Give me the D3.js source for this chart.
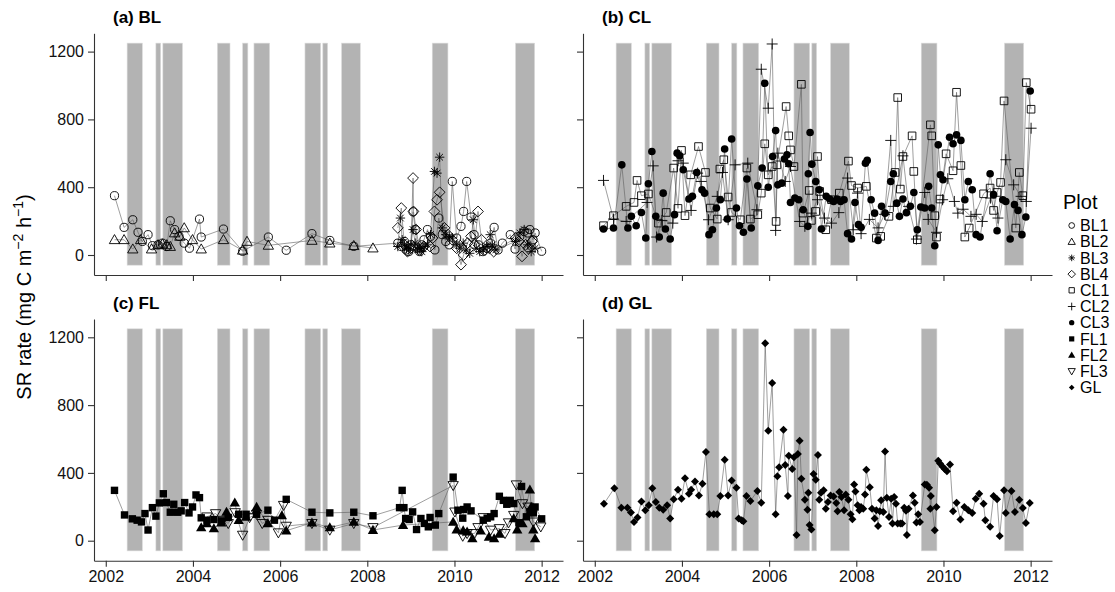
<!DOCTYPE html>
<html>
<head>
<meta charset="utf-8">
<script src="https://cdn.jsdelivr.net/npm/d3@7"></script>
<style>
  body { margin: 0; background: #fff; }
  svg { font-family: "Liberation Sans", Arial, Helvetica, sans-serif; }
  .axis path, .axis line { stroke: #333; stroke-width: 1.1; }
  .axis text { fill: #111; font-size: 16px; font-family: "Liberation Sans", Arial, sans-serif; }
</style>
</head>
<body>
<div id="chart-container"></div>
<script>

// Tick values.
const yearTicks = [2002, 2004, 2006, 2008, 2010, 2012];
const rateTicks = [0, 400, 800, 1200];

// Shaded periods (decimal years).
const bandStart = [2002.49, 2003.15, 2003.31, 2004.56, 2005.14, 2005.40, 2006.57, 2006.98, 2007.41, 2009.49, 2011.40];
const bandEnd   = [2002.84, 2003.26, 2003.76, 2004.85, 2005.26, 2005.76, 2006.93, 2007.09, 2007.84, 2009.85, 2011.84];
const bandLow = -60, bandHigh = 1250;

// Plots, panels.
const plotNames = ["BL1", "BL2", "BL3", "BL4", "CL1", "CL2", "CL3", "FL1", "FL2", "FL3", "GL"];
const panelTitles = ["(a) BL", "(b) CL", "(c) FL", "(d) GL"];
const panelPlots = [["BL1", "BL2", "BL3", "BL4"], ["CL1", "CL2", "CL3"], ["FL1", "FL2", "FL3"], ["GL"]];

// SR rate series: [decimal year, mg C m-2 h-1].
const bl1 = [[2002.20,350],[2002.42,163],[2002.62,208],[2002.74,134],[2002.84,80],[2002.97,120],[2003.07,55],[2003.20,60],[2003.30,70],[2003.40,50],
  [2003.48,202],[2003.58,150],[2003.68,110],[2003.80,70],[2003.92,40],[2004.15,212],[2004.19,106],[2004.70,153],[2005.14,22],[2005.73,106],
  [2006.14,28],[2006.73,126],[2007.14,86],[2007.69,51],[2008.70,70],[2008.78,50],[2008.85,80],[2008.90,30],[2008.95,20],[2009.00,60],
  [2009.05,255],[2009.10,150],[2009.15,40],[2009.20,20],[2009.25,60],[2009.30,90],[2009.38,150],[2009.45,110],[2009.55,30],[2009.64,218],
  [2009.72,120],[2009.80,80],[2009.88,60],[2009.95,434],[2010.05,100],[2010.15,169],[2010.21,257],[2010.28,434],[2010.38,224],[2010.45,120],
  [2010.55,60],[2010.65,20],[2010.75,40],[2010.83,70],[2010.91,163],[2011.00,30],[2011.10,70],[2011.28,120],[2011.39,35],[2011.50,110],
  [2011.60,140],[2011.68,130],[2011.73,150],[2011.80,90],[2011.85,130],[2012.00,22]];
const bl2 = [[2002.20,90],[2002.42,90],[2002.62,35],[2002.80,90],[2003.05,35],[2003.20,60],[2003.30,65],[2003.40,60],[2003.48,50],[2003.58,130],
  [2003.70,110],[2003.80,160],[2003.99,90],[2004.19,35],[2004.70,90],[2005.14,28],[2005.24,80],[2005.73,57],[2006.73,86],[2007.14,70],
  [2007.69,55],[2008.13,41]];
const bl3 = [[2008.70,50],[2008.76,218],[2008.80,90],[2008.85,60],[2008.90,40],[2008.95,30],[2009.00,60],[2009.05,150],[2009.10,70],[2009.15,30],
  [2009.20,40],[2009.25,20],[2009.30,50],[2009.38,60],[2009.45,120],[2009.54,493],[2009.60,483],[2009.66,577],[2009.72,160],[2009.80,120],
  [2009.88,110],[2009.95,100],[2010.05,60],[2010.12,40],[2010.20,70],[2010.27,30],[2010.35,10],[2010.43,208],[2010.50,40],[2010.58,20],
  [2010.66,30],[2010.75,50],[2010.82,120],[2010.87,60],[2010.95,30],[2011.40,80],[2011.50,130],[2011.60,150],[2011.68,60],[2011.76,20],
  [2011.85,40]];
const bl4 = [[2008.70,160],[2008.78,277],[2008.85,60],[2008.92,20],[2009.00,40],[2009.05,454],[2009.06,257],[2009.12,150],[2009.20,30],[2009.30,50],
  [2009.44,50],[2009.50,100],[2009.54,257],[2009.60,326],[2009.66,370],[2009.77,160],[2009.85,120],[2009.95,90],[2010.05,40],[2010.15,-57],
  [2010.21,0],[2010.30,70],[2010.38,110],[2010.46,60],[2010.54,257],[2010.62,90],[2010.70,30],[2010.80,40],[2010.90,20],[2011.40,100],
  [2011.48,80],[2011.55,-8],[2011.63,60],[2011.69,40],[2011.78,80]];
const cl1 = [[2002.20,173],[2002.43,232],[2002.72,287],[2002.90,310],[2002.97,440],[2003.07,350],[2003.23,360],[2003.46,188],[2003.64,251],[2003.81,513],
  [2003.91,275],[2003.99,617],[2004.07,232],[2004.20,473],[2004.38,640],[2004.54,487],[2004.65,277],[2004.81,212],[2004.87,507],[2004.96,562],
  [2005.06,342],[2005.14,251],[2005.34,208],[2005.49,513],[2005.57,212],[2005.74,238],[2005.82,365],[2005.90,656],[2005.98,473],[2006.07,522],
  [2006.16,198],[2006.18,532],[2006.39,876],[2006.45,703],[2006.49,620],[2006.57,522],[2006.74,1007],[2006.78,247],[2006.92,381],[2006.97,204],
  [2007.07,257],[2007.11,581],[2007.16,375],[2007.30,149],[2007.43,326],[2007.61,365],[2007.82,554],[2007.89,410],[2008.03,395],[2008.23,405],
  [2008.46,100],[2008.56,110],[2008.75,228],[2008.89,487],[2008.95,929],[2009.01,389],[2009.07,581],[2009.28,703],[2009.32,493],[2009.40,90],
  [2009.70,768],[2009.73,703],[2009.80,232],[2009.84,106],[2009.92,330],[2010.06,597],[2010.22,497],[2010.30,960],[2010.40,528],[2010.49,106],
  [2010.59,159],[2010.92,361],[2011.07,395],[2011.15,263],[2011.23,369],[2011.31,428],[2011.39,909],[2011.66,159],[2011.74,487],[2011.82,350],
  [2011.90,1017],[2012.01,860]];
const cl2 = [[2002.20,440],[2002.43,212],[2002.72,198],[2003.20,310],[2003.34,526],[2003.42,106],[2003.54,204],[2003.79,188],[2003.91,556],[2004.03,542],
  [2004.21,263],[2004.36,483],[2004.44,434],[2004.61,208],[2004.81,346],[2004.93,487],[2005.06,208],[2005.22,532],[2005.51,542],[2005.72,267],
  [2005.82,1096],[2005.98,866],[2006.07,1245],[2006.15,145],[2006.20,601],[2006.37,434],[2006.49,522],[2006.70,198],[2006.82,169],[2006.97,247],
  [2007.11,326],[2007.27,218],[2007.43,188],[2007.60,250],[2007.80,454],[2007.93,149],[2008.03,365],[2008.11,126],[2008.30,210],[2008.50,160],
  [2008.65,240],[2008.79,676],[2008.85,287],[2009.07,585],[2009.20,287],[2009.38,94],[2009.57,369],[2009.65,210],[2009.84,134],[2009.98,326],
  [2010.10,450],[2010.25,316],[2010.33,247],[2010.45,270],[2010.63,228],[2010.75,240],[2010.89,198],[2011.08,336],[2011.25,218],[2011.43,562],
  [2011.61,414],[2011.78,346],[2011.90,316],[2012.01,748]];
const cl3 = [[2002.20,153],[2002.43,159],[2002.62,532],[2002.76,159],[2002.84,228],[2002.95,173],[2003.07,251],[2003.17,100],[2003.23,420],[2003.31,611],
  [2003.40,228],[2003.48,106],[2003.57,365],[2003.62,153],[2003.73,94],[2003.83,238],[2003.89,601],[2003.95,585],[2004.03,503],[2004.16,330],
  [2004.24,346],[2004.34,487],[2004.46,385],[2004.52,365],[2004.62,120],[2004.70,149],[2004.79,277],[2004.88,326],[2004.98,625],[2005.04,212],
  [2005.14,684],[2005.25,277],[2005.32,173],[2005.41,134],[2005.49,448],[2005.59,159],[2005.74,408],[2005.84,513],[2005.90,1013],[2005.98,400],
  [2006.08,581],[2006.15,734],[2006.20,414],[2006.29,424],[2006.35,566],[2006.41,591],[2006.45,538],[2006.49,310],[2006.59,336],[2006.68,326],
  [2006.78,267],[2006.89,169],[2006.90,479],[2006.94,723],[2006.98,536],[2007.07,434],[2007.15,385],[2007.20,153],[2007.31,346],[2007.39,330],
  [2007.48,316],[2007.56,330],[2007.64,316],[2007.72,326],[2007.80,126],[2007.89,94],[2007.97,310],[2008.05,179],[2008.11,163],[2008.21,542],
  [2008.25,558],[2008.34,326],[2008.42,247],[2008.50,86],[2008.58,287],[2008.66,247],[2008.79,434],[2008.85,479],[2008.93,306],[2008.99,228],
  [2009.07,330],[2009.15,250],[2009.24,287],[2009.32,369],[2009.40,149],[2009.48,283],[2009.57,277],[2009.66,405],[2009.73,277],[2009.80,55],
  [2009.88,650],[2009.93,473],[2009.99,444],[2010.14,695],[2010.22,656],[2010.30,709],[2010.40,676],[2010.49,326],[2010.57,434],[2010.66,385],
  [2010.75,120],[2010.84,106],[2011.07,479],[2011.15,356],[2011.23,143],[2011.36,326],[2011.43,316],[2011.53,94],[2011.63,297],[2011.71,263],
  [2011.80,120],[2011.89,224],[2011.99,968]];
const fl1 = [[2002.20,297],[2002.43,152],[2002.61,129],[2002.72,121],[2002.82,111],[2002.90,160],[2002.97,63],[2003.07,195],[2003.15,145],[2003.23,223],
  [2003.32,277],[2003.39,225],[2003.48,168],[2003.56,215],[2003.65,168],[2003.73,176],[2003.81,225],[2003.91,164],[2003.99,199],[2004.07,270],
  [2004.15,254],[2004.19,135],[2004.32,121],[2004.48,125],[2004.65,117],[2004.81,137],[2005.05,156],[2005.22,156],[2005.46,156],[2005.72,180],
  [2005.87,121],[2006.14,244],[2006.73,168],[2007.14,164],[2007.69,168],[2008.13,147],[2008.74,195],[2008.80,297],[2008.84,195],[2008.88,131],
  [2008.96,125],[2009.04,170],[2009.13,66],[2009.23,131],[2009.31,102],[2009.40,82],[2009.44,137],[2009.56,92],[2009.64,160],[2009.97,375],
  [2010.08,180],[2010.19,133],[2010.21,184],[2010.29,199],[2010.38,176],[2010.66,121],[2010.75,133],[2010.83,141],[2010.91,160],[2011.03,262],
  [2011.12,238],[2011.20,215],[2011.28,238],[2011.36,219],[2011.48,106],[2011.54,320],[2011.65,141],[2011.73,172],[2011.81,164],[2011.85,199],
  [2012.00,129]];
const fl2 = [[2004.19,78],[2004.32,102],[2004.48,72],[2004.65,106],[2004.77,170],[2004.96,225],[2005.05,121],[2005.22,141],[2005.46,199],[2005.72,102],
  [2006.04,149],[2006.14,59],[2006.73,106],[2007.14,78],[2007.69,111],[2008.13,63],[2008.82,92],[2009.97,111],[2010.05,66],[2010.20,60],
  [2010.29,53],[2010.41,14],[2010.60,60],[2010.79,23],[2010.91,14],[2011.03,40],[2011.36,131],[2011.44,66],[2011.56,102],[2011.73,301],
  [2011.76,200],[2011.81,66],[2011.85,14]];
const fl3 = [[2004.32,141],[2004.52,160],[2004.69,121],[2004.81,102],[2004.97,166],[2005.14,33],[2005.30,137],[2005.46,156],[2005.59,102],[2005.72,121],
  [2005.96,47],[2006.08,209],[2006.14,86],[2006.73,102],[2007.14,63],[2007.69,102],[2008.13,78],[2009.97,326],[2010.01,170],[2010.19,27],
  [2010.29,43],[2010.46,43],[2010.54,78],[2010.66,137],[2010.83,63],[2011.03,72],[2011.16,43],[2011.24,106],[2011.36,150],[2011.42,330],
  [2011.56,219],[2011.69,199],[2011.81,111],[2011.98,82]];
const gl = [[2002.21,218],[2002.45,310],[2002.61,195],[2002.75,195],[2002.83,166],[2002.90,111],[2002.98,137],[2003.07,232],[2003.16,179],[2003.24,209],
  [2003.32,310],[2003.40,228],[2003.48,195],[2003.57,183],[2003.66,209],[2003.73,131],[2003.81,244],[2003.91,300],[2003.99,248],[2004.07,369],
  [2004.16,277],[2004.21,300],[2004.30,349],[2004.39,267],[2004.47,336],[2004.55,523],[2004.63,156],[2004.73,156],[2004.81,156],[2004.88,263],
  [2004.98,478],[2005.06,267],[2005.14,355],[2005.25,312],[2005.30,131],[2005.37,121],[2005.41,115],[2005.48,263],[2005.57,234],[2005.73,293],
  [2005.82,224],[2005.91,1165],[2005.98,648],[2006.07,931],[2006.15,156],[2006.19,380],[2006.23,433],[2006.33,654],[2006.37,447],[2006.43,263],
  [2006.45,501],[2006.53,423],[2006.57,492],[2006.63,33],[2006.66,511],[2006.70,589],[2006.74,365],[2006.82,242],[2006.88,183],[2006.90,283],
  [2006.93,92],[2006.97,66],[2007.02,394],[2007.07,359],[2007.12,505],[2007.15,242],[2007.19,283],[2007.25,297],[2007.30,189],[2007.35,228],
  [2007.41,267],[2007.48,261],[2007.54,222],[2007.57,174],[2007.61,287],[2007.66,258],[2007.72,179],[2007.76,273],[2007.82,242],[2007.87,156],
  [2007.91,127],[2007.95,332],[2007.98,291],[2008.03,209],[2008.07,179],[2008.11,199],[2008.16,189],[2008.20,273],[2008.23,419],[2008.31,316],
  [2008.36,189],[2008.42,131],[2008.46,179],[2008.50,86],[2008.54,174],[2008.57,238],[2008.62,170],[2008.66,527],[2008.70,254],[2008.75,140],
  [2008.80,248],[2008.83,101],[2008.87,258],[2008.91,218],[2008.95,101],[2009.01,101],[2009.05,101],[2009.10,195],[2009.14,176],[2009.16,33],
  [2009.20,189],[2009.30,267],[2009.34,224],[2009.38,107],[2009.42,156],[2009.46,111],[2009.57,332],[2009.62,330],[2009.67,312],[2009.70,189],
  [2009.71,263],[2009.80,62],[2009.84,199],[2009.88,472],[2009.92,456],[2009.98,437],[2010.03,423],[2010.08,410],[2010.15,449],[2010.22,174],
  [2010.30,224],[2010.39,125],[2010.48,199],[2010.57,179],[2010.66,164],[2010.74,248],[2010.82,277],[2010.92,218],[2010.96,121],[2011.07,82],
  [2011.15,263],[2011.23,244],[2011.29,27],[2011.39,297],[2011.43,164],[2011.56,293],[2011.64,170],[2011.74,242],[2011.82,193],[2011.89,105],
  [2011.98,222]];

const seriesData = { BL1: bl1, BL2: bl2, BL3: bl3, BL4: bl4, CL1: cl1, CL2: cl2, CL3: cl3, FL1: fl1, FL2: fl2, FL3: fl3, GL: gl };

// Shape per plot, size in px, filled or not.
const shapeOf = { BL1: "circle", BL2: "triangle", BL3: "asterisk", BL4: "diamond", CL1: "square", CL2: "plus",
  CL3: "dot", FL1: "squareFill", FL2: "triangleFill", FL3: "triangleDown", GL: "diamondFill" };
const shapeSize = { circle: 4.1, triangle: 4.7, asterisk: 4.7, diamond: 5.4, square: 3.8, plus: 5.5,
  dot: 3.8, squareFill: 3.7, triangleFill: 4.7, triangleDown: 4.7, diamondFill: 4 };
const filledShapes = ["dot", "squareFill", "triangleFill", "diamondFill"];

// Symbol path.
function shapePath(shape, r) {
  const t = r * 1.1;
  switch (shape) {
    case "circle":
    case "dot":
      return `M${r},0A${r},${r} 0 1,1 ${-r},0A${r},${r} 0 1,1 ${r},0Z`;
    case "square":
    case "squareFill":
      return `M${-r},${-r}H${r}V${r}H${-r}Z`;
    case "triangle":
    case "triangleFill":
      return `M0,${-t}L${t},${t * 0.75}L${-t},${t * 0.75}Z`;
    case "triangleDown":
      return `M0,${t}L${t},${-t * 0.75}L${-t},${-t * 0.75}Z`;
    case "diamond":
    case "diamondFill":
      return `M0,${-r}L${r},0L0,${r}L${-r},0Z`;
    case "plus":
      return `M${-r},0H${r}M0,${-r}V${r}`;
    case "asterisk": {
      const q = r * 0.707;
      return `M${-r},0H${r}M0,${-r}V${r}M${-q},${-q}L${q},${q}M${-q},${q}L${q},${-q}`;
    }
  }
}

function styleSymbol(sel, shape) {
  const filled = filledShapes.includes(shape);
  sel.attr("fill", filled ? "#000" : "none")
    .attr("stroke", filled ? "none" : "#000")
    .attr("stroke-width", 0.9);
}

// Sizing.
const fWidth = 1115, fHeight = 592;
const panelLeft = [94, 583], panelTop = [33.3, 319];
const panelW = 469, panelH = 241.7;

const chartCanvas = d3.select("#chart-container").append("svg")
  .attr("width", fWidth)
  .attr("height", fHeight);

const xScale = d3.scaleLinear().domain([2001.73, 2012.49]).range([0, panelW]);
const yScale = d3.scaleLinear().domain([-118, 1308]).range([panelH, 0]);

const pathGen = d3.line()
  .x(d => xScale(d[0]))
  .y(d => yScale(d[1]));

panelTitles.forEach((title, i) => {
  const col = i % 2, row = Math.floor(i / 2);
  const panel = chartCanvas.append("g")
    .attr("transform", `translate(${ panelLeft[col] } ${ panelTop[row] })`);

  // Shaded bands.
  panel.append("g").selectAll("rect")
    .data(d3.zip(bandStart, bandEnd))
    .enter()
    .append("rect")
      .attr("x", d => xScale(d[0]))
      .attr("width", d => xScale(d[1]) - xScale(d[0]))
      .attr("y", yScale(bandHigh))
      .attr("height", yScale(bandLow) - yScale(bandHigh))
      .attr("fill", "#b3b3b3")
      .attr("stroke", "#dcdcdc")
      .attr("stroke-width", 0.6);

  // Axes.
  panel.append("g")
    .attr("class", "axis")
    .attr("transform", `translate(0 ${ panelH })`)
    .call(d3.axisBottom(xScale).tickValues(yearTicks).tickSize(6).tickSizeOuter(0).tickPadding(4)
      .tickFormat(row === 1 ? d3.format("d") : () => ""));

  panel.append("g")
    .attr("class", "axis")
    .call(d3.axisLeft(yScale).tickValues(rateTicks).tickSize(6).tickSizeOuter(0).tickPadding(4)
      .tickFormat(col === 0 ? d3.format("d") : () => ""));

  // Lines then points per plot.
  panelPlots[i].forEach(name => {
    panel.append("path")
      .attr("d", pathGen(seriesData[name]))
      .attr("fill", "none")
      .attr("stroke", "#5e5e5e")
      .attr("stroke-width", 0.6);
  });
  panelPlots[i].forEach(name => {
    const shape = shapeOf[name];
    panel.append("g").selectAll("path")
      .data(seriesData[name])
      .enter()
      .append("path")
        .attr("transform", d => `translate(${ xScale(d[0]) } ${ yScale(d[1]) })`)
        .attr("d", shapePath(shape, shapeSize[shape]))
        .call(styleSymbol, shape);
  });

  // Panel title.
  panel.append("text")
    .attr("x", 19)
    .attr("y", -10.2)
    .style("font-size", "17px")
    .style("font-weight", "bold")
    .text(title);
});

// Y axis title.
const yTitle = chartCanvas.append("text")
  .attr("transform", "translate(31 297) rotate(-90)")
  .attr("text-anchor", "middle")
  .style("font-size", "20px");
yTitle.append("tspan").text("SR rate (mg C m");
yTitle.append("tspan").attr("dy", -8).style("font-size", "14px").text("\u22122");
yTitle.append("tspan").attr("dy", 8).text(" h");
yTitle.append("tspan").attr("dy", -8).style("font-size", "14px").text("\u22121");
yTitle.append("tspan").attr("dy", 8).text(")");

// Legend.
const legend = chartCanvas.append("g")
  .attr("transform", "translate(1063 0)");
legend.append("text")
  .attr("x", 0)
  .attr("y", 209)
  .style("font-size", "20px")
  .text("Plot");
plotNames.forEach((name, i) => {
  const cy = 225.5 + i * 16.2;
  const shape = shapeOf[name];
  legend.append("path")
    .attr("transform", `translate(8.7 ${ cy })`)
    .attr("d", shapePath(shape, shapeSize[shape] * 0.7))
    .call(styleSymbol, shape);
  legend.append("text")
    .attr("x", 17)
    .attr("y", cy)
    .attr("dy", "0.36em")
    .style("font-size", "16px")
    .text(name);
});

</script>
</body>
</html>
